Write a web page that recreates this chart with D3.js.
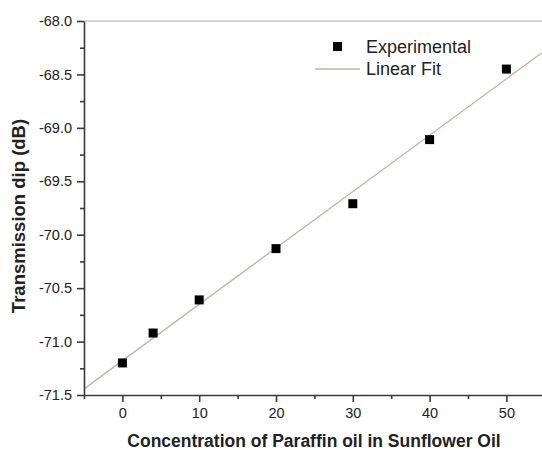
<!DOCTYPE html>
<html>
<head>
<meta charset="utf-8">
<script src="https://cdn.jsdelivr.net/npm/d3@7"></script>
<style>
  body { margin: 0; background: #fff; }
  text { font-family: "Liberation Sans", Arial, sans-serif; }
</style>
</head>
<body>
<div id="chart"></div>
<script>
// concentration (%) and measured transmission dip (dB)
const concentration = [0, 4, 10, 20, 30, 40, 50];
const transmissionDip = [-71.20, -70.92, -70.61, -70.13, -69.71, -69.11, -68.45];
const xTicks = [0, 10, 20, 30, 40, 50];
const yTicks = [-68.0, -68.5, -69.0, -69.5, -70.0, -70.5, -71.0, -71.5];

const W = 542, H = 450;
const margin = { top: 21, left: 84 };

const svg = d3.select("#chart")
    .append("svg")
    .attr("width", W)
    .attr("height", H);

const x = d3.scaleLinear().domain([-5, 55]).range([margin.left, margin.left + 60 * 7.68]);
const y = d3.scaleLinear().domain([-71.5, -68]).range([395, margin.top]);

// least squares fit
const mx = d3.mean(concentration), my = d3.mean(transmissionDip);
let sxy = 0, sxx = 0;
concentration.forEach((c, i) => {
    sxy += (c - mx) * (transmissionDip[i] - my);
    sxx += (c - mx) * (c - mx);
});
const slope = sxy / sxx;
const intercept = my - slope * mx;

svg.append("clipPath").attr("id", "plot")
    .append("rect")
    .attr("x", margin.left).attr("y", margin.top)
    .attr("width", W - margin.left).attr("height", 395 - margin.top);

// top frame line
svg.append("line")
    .attr("x1", margin.left).attr("x2", W)
    .attr("y1", margin.top).attr("y2", margin.top)
    .attr("stroke", "#a8a8a8").attr("stroke-width", 1);

// fit line
svg.append("line")
    .attr("clip-path", "url(#plot)")
    .attr("x1", x(-5)).attr("y1", y(intercept + slope * -5))
    .attr("x2", x(55)).attr("y2", y(intercept + slope * 55))
    .attr("stroke", "#c9aeaa").attr("stroke-width", 1.3);

// axes
const fmt = d => d3.format(".1f")(d).replace("−", "-");

svg.append("g")
    .attr("transform", `translate(0,395)`)
    .call(d3.axisBottom(x).tickValues(xTicks).tickSize(7).tickPadding(6).tickSizeOuter(0));
svg.append("g")
    .attr("transform", `translate(0,395)`)
    .call(d3.axisBottom(x).tickValues([-5, 5, 15, 25, 35, 45]).tickSize(4).tickFormat("").tickSizeOuter(0))
    .select(".domain").remove();

svg.append("g")
    .attr("transform", `translate(${margin.left},0)`)
    .call(d3.axisLeft(y).tickValues(yTicks).tickFormat(fmt).tickSize(7).tickPadding(5).tickSizeOuter(0));
svg.append("g")
    .attr("transform", `translate(${margin.left},0)`)
    .call(d3.axisLeft(y).tickValues(d3.range(7).map(i => -68.25 - i * 0.5)).tickSize(4).tickFormat("").tickSizeOuter(0))
    .select(".domain").remove();

svg.selectAll(".domain, .tick line")
    .attr("stroke", "#3a3a3a")
    .attr("stroke-width", 1.6);
svg.selectAll(".tick text")
    .attr("fill", "#222")
    .style("font-size", "14.5px")
    .style("font-family", "'Liberation Sans', Arial, sans-serif");

// points
svg.selectAll(".pt")
    .data(concentration)
    .enter()
    .append("rect")
    .attr("class", "pt")
    .attr("x", (d) => x(d) - 4.5)
    .attr("y", (d, i) => y(transmissionDip[i]) - 4.5)
    .attr("width", 9).attr("height", 9)
    .attr("fill", "#000");

// legend
svg.append("rect")
    .attr("x", 333).attr("y", 42).attr("width", 9).attr("height", 9)
    .attr("fill", "#000");
svg.append("text")
    .attr("x", 366).attr("y", 53)
    .style("font-size", "18px").attr("fill", "#222")
    .text("Experimental");
svg.append("line")
    .attr("x1", 315).attr("x2", 360).attr("y1", 69).attr("y2", 69)
    .attr("stroke", "#c9aeaa").attr("stroke-width", 1.3);
svg.append("text")
    .attr("x", 366).attr("y", 75)
    .style("font-size", "18px").attr("fill", "#222")
    .text("Linear Fit");

// axis titles
svg.append("text")
    .attr("x", 314).attr("y", 447)
    .attr("text-anchor", "middle")
    .style("font-size", "17.5px").style("font-weight", "bold").attr("fill", "#222")
    .text("Concentration of Paraffin oil in Sunflower Oil");

svg.append("text")
    .attr("transform", "translate(25,216) rotate(-90)")
    .attr("text-anchor", "middle")
    .style("font-size", "18.5px").style("font-weight", "bold").attr("fill", "#222")
    .text("Transmission dip (dB)");
</script>
</body>
</html>
